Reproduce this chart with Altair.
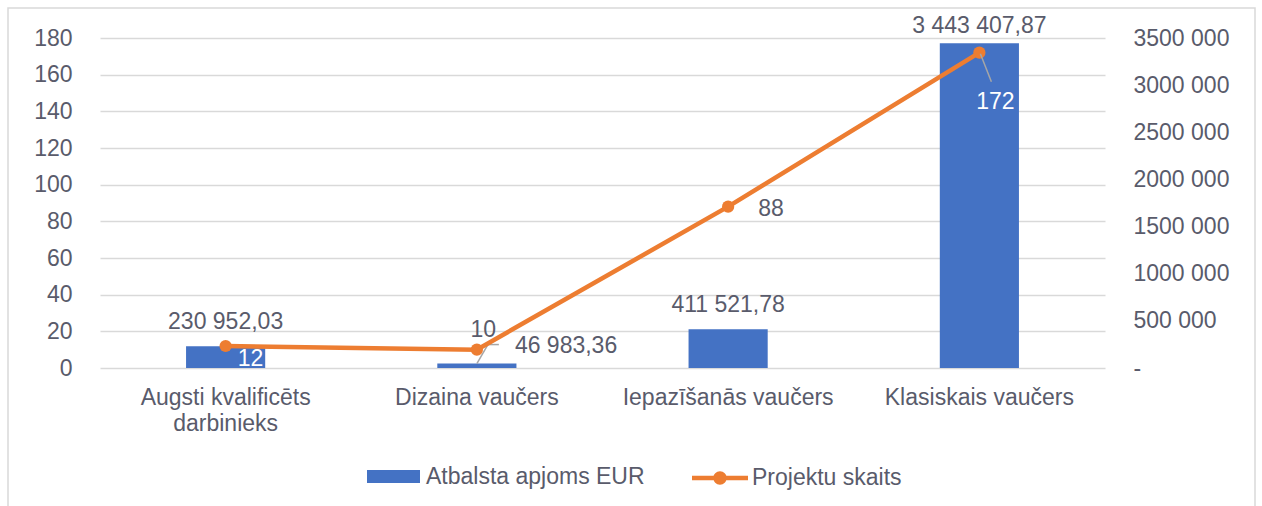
import altair as alt
import pandas as pd

# --- data -------------------------------------------------------------
categories = [
    "Augsti kvalificēts darbinieks",
    "Dizaina vaučers",
    "Iepazīšanās vaučers",
    "Klasiskais vaučers",
]
support_eur = [230952.03, 46983.36, 411521.78, 3443407.87]
project_count = [12, 10, 88, 172]
series_names = ["Atbalsta apjoms EUR", "Projektu skaits"]
left_ticks = list(range(0, 181, 20))
right_ticks = list(range(0, 3500001, 500000))
wrapped_labels = {"Augsti kvalificēts darbinieks": ["Augsti kvalificēts", "darbinieks"]}

# --- style ------------------------------------------------------------
BLUE = "#4472C4"
ORANGE = "#ED7D31"
TEXT = "#595b6b"
GRID = "#D9D9D9"
LEADER = "#A6A6A6"
FONT = "Liberation Sans"
FS = 23


def lv_money(v):
    return f"{v:,.2f}".replace(",", " ").replace(".", ",")


df = pd.DataFrame({
    "kategorija": categories,
    "apjoms": support_eur,
    "skaits": project_count,
    "apjoms_txt": [lv_money(v) for v in support_eur],
    "rinda_a": series_names[0],
    "rinda_p": series_names[1],
})
base = alt.Chart(df)

wrap_expr = "datum.label"
for name, lines in wrapped_labels.items():
    arr = "[" + ", ".join(f"'{s}'" for s in lines) + "]"
    wrap_expr = f"datum.label == '{name}' ? {arr} : ({wrap_expr})"

x_enc = alt.X(
    "kategorija:N", sort=categories,
    scale=alt.Scale(paddingInner=0, paddingOuter=0),
    axis=alt.Axis(title=None, labelAngle=0, domain=False, ticks=False, tickSize=0,
                  labelPadding=18, labelLineHeight=26, labelLimit=400,
                  labelExpr=wrap_expr, labelFontSize=FS, labelColor=TEXT, labelFont=FONT),
)

right_label_expr = (
    "datum.value == 0 ? '-' : format(floor(datum.value / 1000), 'd') + ' ' + "
    "substring(format(1000 + datum.value % 1000, 'd'), 1)"
)
y_amount = alt.Y(
    "apjoms:Q",
    scale=alt.Scale(domain=[0, 3500000], nice=False),
    axis=alt.Axis(orient="right", title=None, values=right_ticks, grid=False,
                  domain=False, ticks=False, labelAlign="left", labelPadding=28,
                  labelExpr=right_label_expr, labelFontSize=FS, labelColor=TEXT,
                  labelFont=FONT),
)
y_count = alt.Y(
    "skaits:Q",
    scale=alt.Scale(domain=[0, 180], nice=False),
    axis=alt.Axis(orient="left", title=None, values=left_ticks, grid=True,
                  gridColor=GRID, gridWidth=1.5, domain=False, ticks=False,
                  labelPadding=28, labelFontSize=FS, labelColor=TEXT, labelFont=FONT),
)

legend_common = dict(orient="none", title=None, labelFontSize=FS, labelColor=TEXT,
                     labelFont=FONT, labelLimit=400, symbolStrokeWidth=0, legendY=412)

# --- bars (right axis) ------------------------------------------------
bars = base.mark_bar(width=alt.RelativeBandSize(0.315)).encode(
    x=x_enc, y=y_amount,
    color=alt.Color("rinda_a:N",
                    scale=alt.Scale(domain=[series_names[0]], range=[BLUE]),
                    legend=alt.Legend(symbolType="M-1,-0.245H1V0.245H-1Z",
                                      symbolSize=2809, legendX=267, labelOffset=6,
                                      symbolFillColor=BLUE, **legend_common)),
)


def amount_label(cat, dy, dx=0, align="center"):
    return base.transform_filter(alt.datum.kategorija == cat).mark_text(
        dx=dx, dy=dy, align=align, baseline="middle", fontSize=FS, color=TEXT, font=FONT
    ).encode(x=x_enc, y=y_amount, text="apjoms_txt:N")


bar_leader = base.transform_filter(alt.datum.kategorija == categories[1]).mark_rule(
    color=LEADER, strokeWidth=1.5, x2Offset=11, y2Offset=-19
).encode(x=x_enc, x2=alt.X2("kategorija"), y=y_amount, y2=alt.Y2("apjoms"))
bar_leader_h = base.transform_filter(alt.datum.kategorija == categories[1]).mark_rule(
    color=LEADER, strokeWidth=1.5, xOffset=11, x2Offset=22, yOffset=-19, y2Offset=-19
).encode(x=x_enc, x2=alt.X2("kategorija"), y=y_amount, y2=alt.Y2("apjoms"))

bar_group = alt.layer(
    bars,
    bar_leader, bar_leader_h,
    amount_label(categories[0], -24),
    amount_label(categories[1], -17.5, dx=38, align="left"),
    amount_label(categories[2], -24),
    amount_label(categories[3], -17),
)

# --- line (left axis) -------------------------------------------------
line = base.mark_line(strokeWidth=4.5, point=alt.OverlayMarkDef(filled=True, size=150)).encode(
    x=x_enc, y=y_count,
    color=alt.Color("rinda_p:N",
                    scale=alt.Scale(domain=[series_names[1]], range=[ORANGE]),
                    legend=alt.Legend(
                        symbolType="M-1,-0.08H1V0.08H-1Z M-0.24,0A0.24,0.24 0 1 1 0.24,0A0.24,0.24 0 1 1 -0.24,0Z",
                        symbolSize=3136, legendX=592, labelOffset=4,
                        symbolFillColor=ORANGE, **legend_common)),
)


def count_label(cat, dx, dy, color):
    return base.transform_filter(alt.datum.kategorija == cat).mark_text(
        dx=dx, dy=dy, align="center", baseline="middle", fontSize=FS, color=color, font=FONT
    ).encode(x=x_enc, y=y_count, text="skaits:Q")


count_leader = base.transform_filter(alt.datum.kategorija == categories[3]).mark_rule(
    color=LEADER, strokeWidth=1.5, xOffset=1, yOffset=1, x2Offset=12, y2Offset=29
).encode(x=x_enc, x2=alt.X2("kategorija"), y=y_count, y2=alt.Y2("skaits"))

line_group = alt.layer(
    line,
    count_leader,
    count_label(categories[0], 25, 13, "white"),
    count_label(categories[1], 6.5, -19.5, TEXT),
    count_label(categories[2], 43, 2, TEXT),
    count_label(categories[3], 16, 49, "white"),
)

# --- outer frame ------------------------------------------------------
frame = alt.Chart(pd.DataFrame({"k": [0]})).mark_rect(
    fillOpacity=0, stroke=GRID, strokeWidth=1.5
).encode(x=alt.value(-92), x2=alt.value(1155), y=alt.value(-30), y2=alt.value(600))

chart = (
    alt.layer(frame, bar_group, line_group)
    .resolve_scale(y="independent", color="independent")
    .properties(
        width=1005, height=330,
        padding={"left": 100, "top": 38, "right": 157, "bottom": 138},
        autosize=alt.AutoSizeParams(type="none"),
        background="white",
    )
    .configure(font=FONT)
    .configure_view(stroke=None)
)

chart.save("out.html", embed_options={"renderer": "svg", "actions": False})
